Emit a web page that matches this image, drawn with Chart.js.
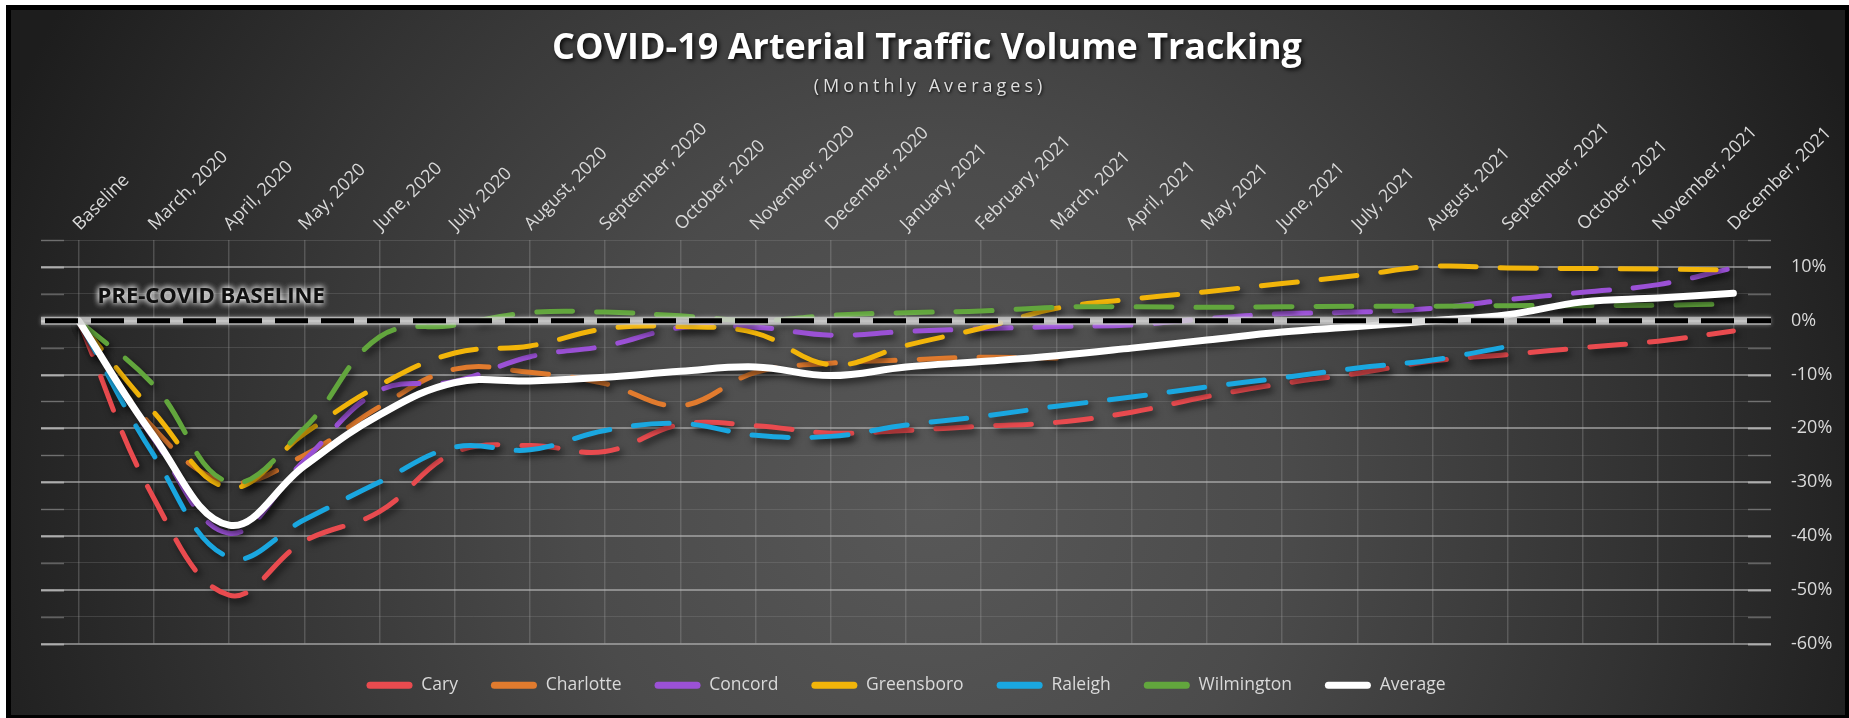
<!DOCTYPE html>
<html>
<head>
<meta charset="utf-8">
<script src="https://cdn.jsdelivr.net/npm/chart.js@4.4.1/dist/chart.umd.min.js"></script>
<style>
html,body{margin:0;padding:0;background:#fff;overflow:hidden}
#wrap{position:absolute;left:0;top:0;width:1849px;height:718px}
</style>
</head>
<body>
<div id="wrap"><canvas id="c" width="1849" height="718"></canvas></div>
<script>
const TITLE = 'COVID-19 Arterial Traffic Volume Tracking';
const SUBTITLE = '(Monthly Averages)';
const BASELINE_LABEL = 'PRE-COVID BASELINE';

const categories = ['Baseline','March, 2020','April, 2020','May, 2020','June, 2020','July, 2020','August, 2020','September, 2020','October, 2020','November, 2020','December, 2020','January, 2021','February, 2021','March, 2021','April, 2021','May, 2021','June, 2021','July, 2021','August, 2021','September, 2021','October, 2021','November, 2021','December, 2021'];

const cary       = [0, -33, -51, -41, -35.5, -24.5, -23.2, -24.3, -19.3, -19.5, -20.9, -20.4, -19.6, -18.9, -17, -14.1, -11.7, -9.8, -7.5, -6.3, -5, -3.8, -1.9];
const charlotte  = [0, -20, -30, -25, -16, -9, -9.6, -11.7, -15.8, -9.6, -7.9, -7.3, -6.8, -7, null, null, null, null, null, null, null, null, null];
const concord    = [0, -22, -39.5, -26, -13, -11.3, -6.7, -4.7, -1.3, -1.2, -2.7, -2.0, -1.5, -1.1, -0.8, 0.4, 1.3, 1.6, 2.3, 3.9, 5.3, 6.7, 9.8];
const greensboro = [0, -17, -31, -21, -12, -6, -4.7, -1.5, -1.1, -2.3, -8.2, -4.6, -1.4, 2.3, 4.0, 5.4, 6.9, 8.4, 10.1, 9.8, 9.7, 9.6, 9.4];
const raleigh    = [0, -25, -44, -37, -30, -23.5, -24, -20.4, -19.1, -21.3, -21.5, -19.4, -17.8, -15.9, -14.2, -12.3, -10.6, -8.8, -7.3, -4.8, null, null, null];
const wilmington = [0, -12, -30, -20, -3, -0.8, 1.5, 1.6, 0.9, 0, 1.0, 1.5, 1.8, 2.5, 2.6, 2.5, 2.6, 2.7, 2.7, 2.8, 2.8, 2.9, 3.1];
const average    = [0, -21.5, -38, -27, -17.5, -11.5, -11.2, -10.5, -9.4, -8.6, -10.2, -8.6, -7.6, -6.5, -5.1, -3.6, -2.1, -1.1, 0, 1.1, 3.5, 4.2, 5.1];

const yMin = -60, yMax = 15, yStep = 5;

const FONT = '"Open Sans", "Noto Sans", sans-serif';

function dashed(label, data, color, order) {
  return {
    label, data, borderColor: color, backgroundColor: color,
    borderWidth: 5, borderDash: [36, 24], borderCapStyle: 'round', borderJoinStyle: 'round',
    pointRadius: 0, pointHoverRadius: 0, tension: 0.4, fill: false, spanGaps: false, order
  };
}

const bgPlugin = {
  id: 'bg',
  beforeDraw(chart) {
    const ctx = chart.ctx, W = chart.width, H = chart.height;
    ctx.save();
    ctx.fillStyle = '#ffffff'; ctx.fillRect(0, 0, W, H);
    ctx.fillStyle = '#000000'; ctx.fillRect(6, 5, W - 6, H - 5);
    const g = ctx.createRadialGradient(930, 500, 0, 930, 500, 1000);
    g.addColorStop(0, '#585858');
    g.addColorStop(0.35, '#4b4b4b');
    g.addColorStop(0.7, '#333333');
    g.addColorStop(1, '#1d1d1d');
    ctx.fillStyle = g; ctx.fillRect(11, 10, W - 15, H - 13);
    ctx.restore();
  },
  beforeDatasetsDraw(chart) {
    const {ctx, chartArea: a, scales: {y}} = chart;
    ctx.save();
    y.ticks.forEach(t => {
      const py = Math.round(y.getPixelForValue(t.value)) + 0.5;
      const major = Math.round(t.value) % 10 === 0;
      ctx.strokeStyle = major ? 'rgba(190,190,190,0.75)' : 'rgba(170,170,170,0.45)';
      ctx.lineWidth = major ? 2 : 1.5;
      ctx.beginPath();
      ctx.moveTo(a.left, py); ctx.lineTo(a.left + 23, py);
      ctx.moveTo(a.right - 23, py); ctx.lineTo(a.right, py);
      ctx.stroke();
    });
    ctx.restore();
  }
};

const shadowPlugin = {
  id: 'lineShadow',
  beforeDatasetDraw(chart) {
    const ctx = chart.ctx;
    ctx.save();
    ctx.shadowColor = 'rgba(0,0,0,0.6)';
    ctx.shadowBlur = 7;
    ctx.shadowOffsetX = 3;
    ctx.shadowOffsetY = 4;
  },
  afterDatasetDraw(chart) {
    chart.ctx.restore();
  }
};

const baselinePlugin = {
  id: 'baseline',
  afterDatasetsDraw(chart) {
    const {ctx, chartArea: a, scales: {x, y}} = chart;
    const y0 = y.getPixelForValue(0);
    ctx.save();
    ctx.lineCap = 'butt';
    ctx.shadowColor = 'rgba(255,255,255,0.5)';
    ctx.shadowBlur = 4;
    ctx.strokeStyle = 'rgba(205,205,205,0.75)';
    ctx.lineWidth = 8;
    ctx.beginPath(); ctx.moveTo(a.left, y0); ctx.lineTo(a.right, y0); ctx.stroke();
    ctx.shadowBlur = 0; ctx.shadowColor = 'transparent';
    ctx.strokeStyle = '#000000';
    ctx.lineWidth = 5;
    ctx.setLineDash([33, 13]);
    ctx.beginPath(); ctx.moveTo(a.left + 4, y0); ctx.lineTo(a.right, y0); ctx.stroke();
    ctx.setLineDash([]);
    ctx.font = 'bold 22px ' + FONT;
    ctx.textAlign = 'left'; ctx.textBaseline = 'middle';
    ctx.shadowColor = 'rgba(255,255,255,1)';
    ctx.shadowBlur = 6;
    ctx.fillStyle = '#101010';
    const lx = x.getPixelForValue(0) + 19;
    ctx.fillText(BASELINE_LABEL, lx, y0 - 24);
    ctx.fillText(BASELINE_LABEL, lx, y0 - 24);
    ctx.restore();
  }
};

const titlePlugin = {
  id: 'titles',
  afterDraw(chart) {
    const ctx = chart.ctx;
    ctx.save();
    ctx.textAlign = 'center'; ctx.textBaseline = 'middle';
    ctx.shadowColor = 'rgba(0,0,0,0.85)'; ctx.shadowBlur = 4; ctx.shadowOffsetX = 2; ctx.shadowOffsetY = 2;
    ctx.fillStyle = '#ffffff';
    ctx.font = 'bold 36px ' + FONT;
    ctx.fillText(TITLE, 927, 49);
    ctx.font = '18px ' + FONT;
    ctx.letterSpacing = '4px';
    ctx.fillStyle = '#dedede';
    ctx.shadowBlur = 3; ctx.shadowOffsetX = 1; ctx.shadowOffsetY = 1;
    ctx.fillText(SUBTITLE, 930, 87);
    ctx.restore();
  }
};

function build() {
  const ctx = document.getElementById('c').getContext('2d');
  new Chart(ctx, {
    type: 'line',
    data: {
      labels: categories,
      datasets: [
        dashed('Cary', cary, '#E94B4F', 6),
        dashed('Charlotte', charlotte, '#E17B2E', 5),
        dashed('Concord', concord, '#9B51D6', 4),
        dashed('Greensboro', greensboro, '#F2B50A', 3),
        dashed('Raleigh', raleigh, '#1AA7E0', 2),
        dashed('Wilmington', wilmington, '#62A63D', 1),
        {
          label: 'Average', data: average, borderColor: '#FFFFFF', backgroundColor: '#FFFFFF',
          borderWidth: 7, borderCapStyle: 'round', borderJoinStyle: 'round',
          pointRadius: 0, pointHoverRadius: 0, tension: 0.4, fill: false, order: 0
        }
      ]
    },
    options: {
      responsive: false,
      animation: false,
      devicePixelRatio: 1,
      events: [],
      layout: { padding: { top: 100, left: 41, right: 8, bottom: 14 } },
      plugins: {
        title: { display: false },
        tooltip: { enabled: false },
        legend: {
          position: 'bottom',
          fullSize: false,
          labels: {
            font: { family: FONT, size: 17.5 },
            color: '#d9d9d9',
            boxWidth: 46, boxHeight: 7, padding: 33,
            useBorderRadius: true, borderRadius: 3.5,
            generateLabels(chart) {
              return chart.data.datasets.map((ds, i) => ({
                text: ds.label, fillStyle: ds.borderColor, strokeStyle: ds.borderColor,
                lineWidth: 0, lineDash: [], hidden: false, datasetIndex: i,
                borderRadius: 3.5, fontColor: '#d9d9d9'
              }));
            }
          }
        }
      },
      scales: {
        x: {
          type: 'category',
          position: 'top',
          offset: true,
          border: { display: false },
          grid: { offset: false, drawTicks: false, color: 'rgba(160,160,160,0.32)', lineWidth: 1.5 },
          ticks: {
            autoSkip: false, minRotation: 45, maxRotation: 45, padding: 5, labelOffset: 13,
            color: '#d9d9d9', font: { family: FONT, size: 18 }
          },
          afterFit(scale) { scale.height = 140; }
        },
        y: {
          type: 'linear',
          position: 'right',
          min: yMin, max: yMax,
          border: { display: false },
          grid: {
            drawTicks: false,
            color: c => (Math.round(c.tick.value) % 10 === 0 ? 'rgba(185,185,185,0.6)' : 'rgba(160,160,160,0.22)'),
            lineWidth: c => (Math.round(c.tick.value) % 10 === 0 ? 2 : 1)
          },
          ticks: {
            stepSize: yStep, padding: 20, color: '#d9d9d9',
            font: { family: FONT, size: 18 },
            callback: v => (Math.round(v) % 10 === 0 ? Math.round(v) + '%' : '')
          },
          afterFit(scale) { scale.width = 70; }
        }
      }
    },
    plugins: [bgPlugin, shadowPlugin, baselinePlugin, titlePlugin]
  });
}

if (document.fonts && document.fonts.load) {
  Promise.all([
    document.fonts.load('16px "Open Sans"'),
    document.fonts.load('bold 16px "Open Sans"')
  ]).then(build, build);
} else { build(); }
</script>
</body>
</html>
